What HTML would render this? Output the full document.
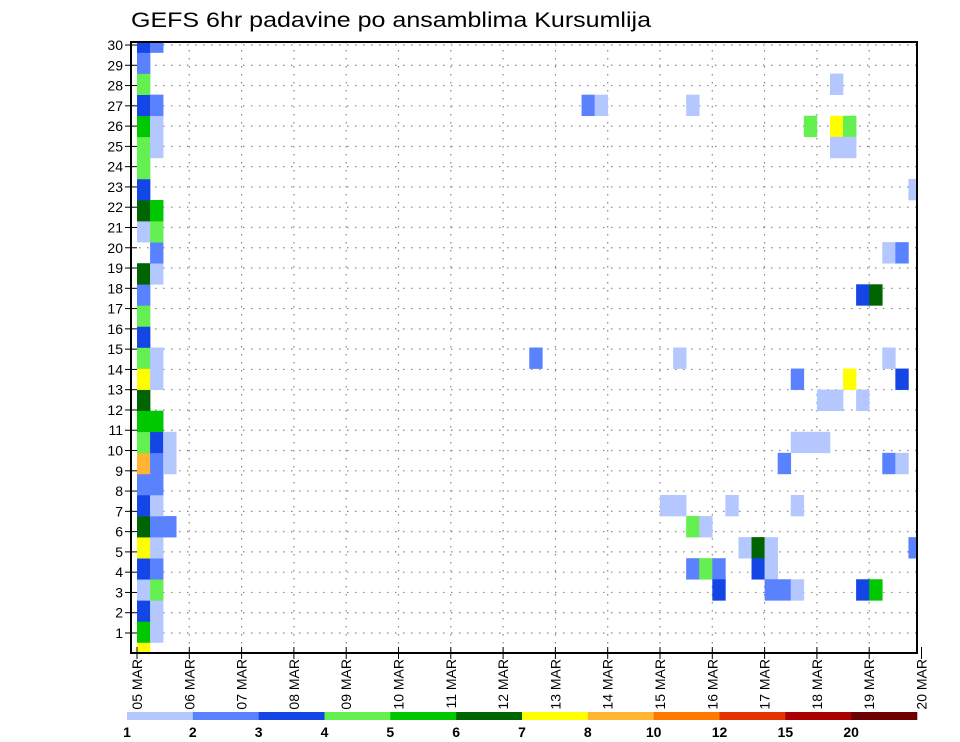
<!DOCTYPE html>
<html><head><meta charset="utf-8"><style>
html,body{margin:0;padding:0;background:#fff;}
svg{display:block;font-family:"Liberation Sans",sans-serif;}
</style></head><body>
<svg id="chart" width="960" height="742" viewBox="0 0 960 742" xmlns="http://www.w3.org/2000/svg">
<text x="131" y="27" font-size="21" textLength="520" lengthAdjust="spacingAndGlyphs" fill="#000">GEFS 6hr padavine po ansamblima Kursumlija</text>
<g id="grid"></g>
<g id="cells"></g>
<g id="axes"></g>
<g id="legend"></g>
</svg>
<script>
// data
const dayLabels = ["05 MAR","06 MAR","07 MAR","08 MAR","09 MAR","10 MAR","11 MAR","12 MAR","13 MAR","14 MAR","15 MAR","16 MAR","17 MAR","18 MAR","19 MAR","20 MAR"];
const memberLabels = [1,2,3,4,5,6,7,8,9,10,11,12,13,14,15,16,17,18,19,20,21,22,23,24,25,26,27,28,29,30];
const legendLabels = ["1","2","3","4","5","6","7","8","10","12","15","20"];
const legendColors = ["#b4c8ff","#5a82ff","#1446e6","#64f050","#00c800","#006400","#ffff00","#ffb432","#ff7800","#e63200","#aa0000","#6e0000"];
// cells: time step index, member row index, colour class (1..12)
const cellSteps = [
 0, 0,1, 0,1, 0,1, 0,1, 0,1, 0,1,2, 0,1, 0,1, 0,1,2, 0,1,2, 0,1, 0, 0,1, 0,1, 0, 0, 0, 0,1, 1, 0,1, 0,1, 0, 0, 0,1, 0,1, 0,1, 0, 0, 0,1,
 53,34,35,42,51,53,54,53,54,59,57,58,55,56,30,41,57,50,54,58,52,53,55,50,51,52,49,57,58,40,41,45,50,42,43,46,47,48,59,42,43,44,47,48,44,48,49,50,55,56];
const cellRows = [
 0, 1,1, 2,2, 3,3, 4,4, 5,5, 6,6,6, 7,7, 8,8, 9,9,9, 10,10,10, 11,11, 12, 13,13, 14,14, 15, 16, 17, 18,18, 19, 20,20, 21,21, 22, 23, 24,24, 25,25, 26,26, 27, 28, 29,29,
 27,26,26,26,25,25,25,24,24,22,19,19,17,17,14,14,14,13,13,13,12,12,12,10,10,10,9,9,9,7,7,7,7,6,6,5,5,5,5,4,4,4,4,4,3,3,3,3,3,3];
const cellClass = [
 7, 5,1, 3,1, 1,4, 3,2, 7,1, 6,2,2, 3,1, 2,2, 8,2,1, 4,3,1, 5,5, 6, 7,1, 4,1, 3, 4, 2, 6,1, 2, 1,4, 6,5, 3, 4, 4,1, 5,1, 3,2, 4, 2, 3,2,
 1,2,1,1,4,7,4,1,1,1,1,2,3,6,2,1,1,2,7,3,1,1,1,1,1,1,2,2,1,1,1,1,1,4,1,1,6,1,2,2,4,2,3,1,3,2,2,1,3,5];

const NS="http://www.w3.org/2000/svg";
const X0=137, DAY=52.3, STEP=DAY/4, XR=917, YB=653, YT=42, CH=(YB-YT)/29;
const LBL1=633, LBLSP=(633-45)/29;
function xDay(d){return X0+d*DAY;}
function xStep(i){return X0+i*STEP;}
function yCell(j){return YB-j*CH;}
function yLabel(m){return LBL1-(m-1)*LBLSP;}
function mk(tag,attrs,parent){const e=document.createElementNS(NS,tag);for(const k in attrs)e.setAttribute(k,attrs[k]);parent.appendChild(e);return e;}

const grid=document.getElementById('grid');
memberLabels.forEach(m=>{
  const l=mk('line',{x1:131,x2:XR,y1:yLabel(m),y2:yLabel(m),stroke:'#888','stroke-width':1.2,'stroke-dasharray':'1.5 6.5'},grid);
  
  
});
dayLabels.forEach((d,i)=>{
  if(i===0||i===dayLabels.length-1)return;
  const l=mk('line',{x1:xDay(i),x2:xDay(i),y1:YT,y2:YB,stroke:'#888','stroke-width':1.2,'stroke-dasharray':'1.5 6.5'},grid);
  
  
});

const cells=document.getElementById('cells');
const clip=mk('clipPath',{id:'pc'},document.getElementById('chart'));
mk('rect',{x:131,y:YT,width:XR-131,height:YB-YT},clip);
cells.setAttribute('clip-path','url(#pc)');
for(let k=0;k<cellSteps.length;k++){
  const i=cellSteps[k], j=cellRows[k], c=cellClass[k];
  const r=mk('rect',{x:xStep(i),y:yCell(j)-CH/2,width:STEP+0.3,height:CH+0.3,fill:legendColors[c-1]},cells);
  
  
}

const axes=document.getElementById('axes');
const fr=mk('rect',{x:131,y:YT,width:XR-131,height:YB-YT,fill:'none',stroke:'#000','stroke-width':2},axes);


memberLabels.forEach(m=>{
  const y=yLabel(m);
  const t=mk('line',{x1:125,x2:137,y1:y,y2:y,stroke:'#000','stroke-width':1},axes);
  
  
  const tx=mk('text',{x:123,y:y+5,'font-size':14,'text-anchor':'end',fill:'#000'},axes);
  tx.textContent=m;
  
  
});
dayLabels.forEach((d,i)=>{
  const x=xDay(i);
  const t=mk('line',{x1:x,x2:x,y1:YB-6,y2:YB+6,stroke:'#000','stroke-width':1},axes);
  
  
  const tx=mk('text',{x:0,y:0,'font-size':14,'text-anchor':'end',fill:'#000',transform:`translate(${x+5},659) rotate(-90)`},axes);
  tx.textContent=d;
  
  
});

const leg=document.getElementById('legend');
const LX0=127, LX1=917, LW=(LX1-LX0)/legendColors.length;
legendColors.forEach((c,k)=>{
  const r=mk('rect',{x:LX0+k*LW,y:712,width:LW+0.3,height:8,fill:c},leg);
  
  
});
legendLabels.forEach((s,k)=>{
  const t=mk('text',{x:LX0+k*LW,y:737,'font-size':14,'font-weight':'bold','text-anchor':'middle',fill:'#000'},leg);
  t.textContent=s;
  
  
});
</script>
</body></html>
